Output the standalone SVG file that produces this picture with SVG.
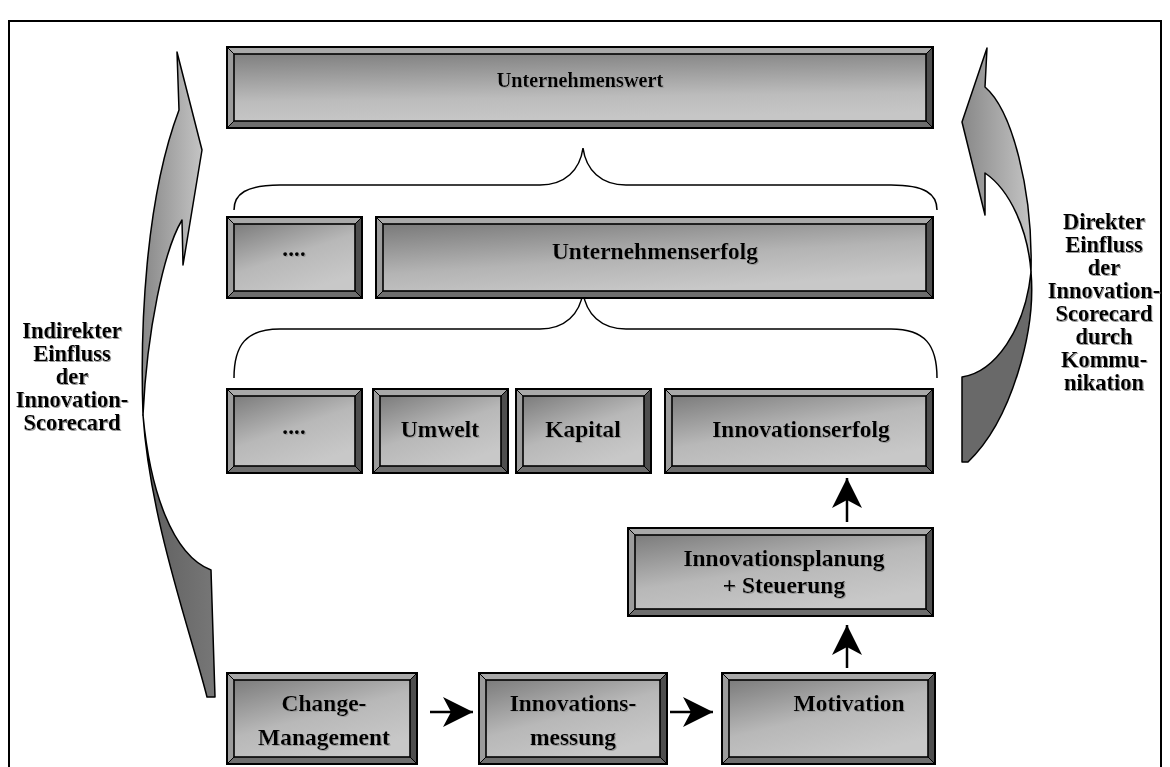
<svg xmlns="http://www.w3.org/2000/svg" width="1170" height="767" viewBox="0 0 1170 767">
<defs>
<linearGradient id="face" x1="0" y1="0" x2="0.6" y2="1">
<stop offset="0" stop-color="#7c7c7c"/>
<stop offset="0.55" stop-color="#b8b8b8"/>
<stop offset="1" stop-color="#c8c8c8"/>
</linearGradient>
<linearGradient id="faceV" x1="0" y1="0" x2="0.15" y2="1">
<stop offset="0" stop-color="#808080"/>
<stop offset="0.7" stop-color="#bcbcbc"/>
<stop offset="1" stop-color="#c6c6c6"/>
</linearGradient>
<linearGradient id="faceH" x1="0" y1="0" x2="0.5" y2="1">
<stop offset="0" stop-color="#7a7a7a"/>
<stop offset="0.6" stop-color="#b4b4b4"/>
<stop offset="1" stop-color="#c8c8c8"/>
</linearGradient>
<linearGradient id="arrUp" x1="0" y1="0" x2="1" y2="0">
<stop offset="0" stop-color="#888888"/>
<stop offset="1" stop-color="#c4c4c4"/>
</linearGradient>
<linearGradient id="arrLow" x1="0" y1="0" x2="1" y2="0">
<stop offset="0" stop-color="#5e5e5e"/>
<stop offset="1" stop-color="#777777"/>
</linearGradient>
<filter id="sh" x="-5%" y="-20%" width="110%" height="140%">
<feOffset in="SourceAlpha" dx="1.2" dy="1.2" result="o"/>
<feFlood flood-color="#9a9a9a"/>
<feComposite in2="o" operator="in" result="s"/>
<feMerge><feMergeNode in="s"/><feMergeNode in="SourceGraphic"/></feMerge>
</filter>
<marker id="ah" markerUnits="userSpaceOnUse" markerWidth="34" markerHeight="34" viewBox="-2 -17 34 34" refX="30" refY="0" orient="auto">
<path d="M0,-15 L30,0 L0,15 L8,0 Z" fill="#000"/>
</marker>
<style>
.ob{fill:#888;stroke:#000;stroke-width:2}
.bt{fill:#a9a9a9}
.bl{fill:#9c9c9c}
.br{fill:#4e4e4e}
.bb{fill:#6e6e6e}
.ed{fill:none;stroke:#000;stroke-width:1}
.in{stroke:#000;stroke-width:1.6}
.t{font-family:"Liberation Serif","Times New Roman",serif;font-weight:bold;font-size:23.5px;fill:#000;text-anchor:middle;filter:url(#sh)}
.ts{font-size:20.3px}
.tl{font-size:22.5px}
.br2{fill:none;stroke:#000;stroke-width:1.5}
.con{fill:none;stroke:#000;stroke-width:2.5}
.arr{stroke:#000;stroke-width:1.5;stroke-linejoin:round}
</style>
</defs>
<rect x="9" y="21" width="1152" height="770" fill="#fff" stroke="#000" stroke-width="2"/>

<g id="arrow-left">
<path class="arr" fill="url(#arrLow)" d="M143,415 C150,490 172,555 211,570 L215,697 L207,697 C190,630 150,520 143,415 Z"/>
<path class="arr" fill="url(#arrUp)" d="M177,52 L202,150 L183,265 L182,220 C164,250 147,330 143,415 C140,330 145,200 179,110 Z"/>
</g>
<g id="arrow-right">
<path class="arr" fill="#696969" d="M1031,272 C1036,330 1012,420 968,462 L962,462 L962,377 C995,372 1025,330 1031,272 Z"/>
<path class="arr" fill="url(#arrUp)" d="M987,48 L962,122 L985,215 L985,173 C1010,190 1028,230 1031,272 C1033,190 1012,110 985,87 Z"/>
</g>

<g id="braces">
<path class="br2" d="M234,210 C234,194 246,185 280,185 L540,185 C565,185 580,170 583,148 C586,170 601,185 626,185 L891,185 C925,185 937,194 937,210"/>
<path class="br2" d="M234,378 C234,345 246,329 280,329 L540,329 C565,329 580,314 583,292 C586,314 601,329 626,329 L891,329 C925,329 937,345 937,378"/>
</g>

<g id="n-unternehmenswert">
<rect class="ob" x="227" y="47" width="706" height="81"/>
<path class="bt" d="M228,48 L932,48 L926,54 L234,54 Z"/>
<path class="bl" d="M228,48 L234,54 L234,121 L228,127 Z"/>
<path class="br" d="M932,48 L932,127 L926,121 L926,54 Z"/>
<path class="bb" d="M228,127 L932,127 L926,121 L234,121 Z"/>
<rect class="in" x="234" y="54" width="692" height="67" fill="url(#faceV)"/>
<path class="ed" d="M228,48 L234,54 M932,48 L926,54 M228,127 L234,121 M932,127 L926,121"/>
<text class="t ts" x="580" y="87">Unternehmenswert</text>
</g>

<g id="n-dots2">
<rect class="ob" x="227" y="217" width="135" height="81"/>
<path class="bt" d="M228,218 L361,218 L355,224 L234,224 Z"/>
<path class="bl" d="M228,218 L234,224 L234,291 L228,297 Z"/>
<path class="br" d="M361,218 L361,297 L355,291 L355,224 Z"/>
<path class="bb" d="M228,297 L361,297 L355,291 L234,291 Z"/>
<rect class="in" x="234" y="224" width="121" height="67" fill="url(#face)"/>
<path class="ed" d="M228,218 L234,224 M361,218 L355,224 M228,297 L234,291 M361,297 L355,291"/>
<text class="t" x="294" y="256">....</text>
</g>

<g id="n-unternehmenserfolg">
<rect class="ob" x="376" y="217" width="557" height="81"/>
<path class="bt" d="M377,218 L932,218 L926,224 L383,224 Z"/>
<path class="bl" d="M377,218 L383,224 L383,291 L377,297 Z"/>
<path class="br" d="M932,218 L932,297 L926,291 L926,224 Z"/>
<path class="bb" d="M377,297 L932,297 L926,291 L383,291 Z"/>
<rect class="in" x="383" y="224" width="543" height="67" fill="url(#faceH)"/>
<path class="ed" d="M377,218 L383,224 M932,218 L926,224 M377,297 L383,291 M932,297 L926,291"/>
<text class="t" x="655" y="259">Unternehmenserfolg</text>
</g>

<g id="n-dots3">
<rect class="ob" x="227" y="389" width="135" height="84"/>
<path class="bt" d="M228,390 L361,390 L355,396 L234,396 Z"/>
<path class="bl" d="M228,390 L234,396 L234,466 L228,472 Z"/>
<path class="br" d="M361,390 L361,472 L355,466 L355,396 Z"/>
<path class="bb" d="M228,472 L361,472 L355,466 L234,466 Z"/>
<rect class="in" x="234" y="396" width="121" height="70" fill="url(#face)"/>
<path class="ed" d="M228,390 L234,396 M361,390 L355,396 M228,472 L234,466 M361,472 L355,466"/>
<text class="t" x="294" y="434">....</text>
</g>

<g id="n-umwelt">
<rect class="ob" x="373" y="389" width="135" height="84"/>
<path class="bt" d="M374,390 L507,390 L501,396 L380,396 Z"/>
<path class="bl" d="M374,390 L380,396 L380,466 L374,472 Z"/>
<path class="br" d="M507,390 L507,472 L501,466 L501,396 Z"/>
<path class="bb" d="M374,472 L507,472 L501,466 L380,466 Z"/>
<rect class="in" x="380" y="396" width="121" height="70" fill="url(#face)"/>
<path class="ed" d="M374,390 L380,396 M507,390 L501,396 M374,472 L380,466 M507,472 L501,466"/>
<text class="t" x="440" y="437">Umwelt</text>
</g>

<g id="n-kapital">
<rect class="ob" x="516" y="389" width="135" height="84"/>
<path class="bt" d="M517,390 L650,390 L644,396 L523,396 Z"/>
<path class="bl" d="M517,390 L523,396 L523,466 L517,472 Z"/>
<path class="br" d="M650,390 L650,472 L644,466 L644,396 Z"/>
<path class="bb" d="M517,472 L650,472 L644,466 L523,466 Z"/>
<rect class="in" x="523" y="396" width="121" height="70" fill="url(#face)"/>
<path class="ed" d="M517,390 L523,396 M650,390 L644,396 M517,472 L523,466 M650,472 L644,466"/>
<text class="t" x="583" y="437">Kapital</text>
</g>

<g id="n-innovationserfolg">
<rect class="ob" x="665" y="389" width="268" height="84"/>
<path class="bt" d="M666,390 L932,390 L926,396 L672,396 Z"/>
<path class="bl" d="M666,390 L672,396 L672,466 L666,472 Z"/>
<path class="br" d="M932,390 L932,472 L926,466 L926,396 Z"/>
<path class="bb" d="M666,472 L932,472 L926,466 L672,466 Z"/>
<rect class="in" x="672" y="396" width="254" height="70" fill="url(#face)"/>
<path class="ed" d="M666,390 L672,396 M932,390 L926,396 M666,472 L672,466 M932,472 L926,466"/>
<text class="t" x="801" y="437">Innovationserfolg</text>
</g>

<g id="n-planung">
<rect class="ob" x="628" y="528" width="305" height="88"/>
<path class="bt" d="M629,529 L932,529 L926,535 L635,535 Z"/>
<path class="bl" d="M629,529 L635,535 L635,609 L629,615 Z"/>
<path class="br" d="M932,529 L932,615 L926,609 L926,535 Z"/>
<path class="bb" d="M629,615 L932,615 L926,609 L635,609 Z"/>
<rect class="in" x="635" y="535" width="291" height="74" fill="url(#face)"/>
<path class="ed" d="M629,529 L635,535 M932,529 L926,535 M629,615 L635,609 M932,615 L926,609"/>
<text class="t" x="784" y="566">Innovationsplanung</text>
<text class="t" x="784" y="593">+ Steuerung</text>
</g>

<g id="n-change">
<rect class="ob" x="227" y="673" width="190" height="91"/>
<path class="bt" d="M228,674 L416,674 L410,680 L234,680 Z"/>
<path class="bl" d="M228,674 L234,680 L234,757 L228,763 Z"/>
<path class="br" d="M416,674 L416,763 L410,757 L410,680 Z"/>
<path class="bb" d="M228,763 L416,763 L410,757 L234,757 Z"/>
<rect class="in" x="234" y="680" width="176" height="77" fill="url(#face)"/>
<path class="ed" d="M228,674 L234,680 M416,674 L410,680 M228,763 L234,757 M416,763 L410,757"/>
<text class="t" x="324" y="711">Change-</text>
<text class="t" x="324" y="745">Management</text>
</g>

<g id="n-messung">
<rect class="ob" x="479" y="673" width="188" height="91"/>
<path class="bt" d="M480,674 L666,674 L660,680 L486,680 Z"/>
<path class="bl" d="M480,674 L486,680 L486,757 L480,763 Z"/>
<path class="br" d="M666,674 L666,763 L660,757 L660,680 Z"/>
<path class="bb" d="M480,763 L666,763 L660,757 L486,757 Z"/>
<rect class="in" x="486" y="680" width="174" height="77" fill="url(#face)"/>
<path class="ed" d="M480,674 L486,680 M666,674 L660,680 M480,763 L486,757 M666,763 L660,757"/>
<text class="t" x="573" y="711">Innovations-</text>
<text class="t" x="573" y="745">messung</text>
</g>

<g id="n-motivation">
<rect class="ob" x="722" y="673" width="213" height="91"/>
<path class="bt" d="M723,674 L934,674 L928,680 L729,680 Z"/>
<path class="bl" d="M723,674 L729,680 L729,757 L723,763 Z"/>
<path class="br" d="M934,674 L934,763 L928,757 L928,680 Z"/>
<path class="bb" d="M723,763 L934,763 L928,757 L729,757 Z"/>
<rect class="in" x="729" y="680" width="199" height="77" fill="url(#face)"/>
<path class="ed" d="M723,674 L729,680 M934,674 L928,680 M723,763 L729,757 M934,763 L928,757"/>
<text class="t" x="849" y="711">Motivation</text>
</g>

<g id="labels">
<text class="t tl" x="72" y="338">Indirekter</text>
<text class="t tl" x="72" y="361">Einfluss</text>
<text class="t tl" x="72" y="384">der</text>
<text class="t tl" x="72" y="407">Innovation-</text>
<text class="t tl" x="72" y="430">Scorecard</text>
<text class="t tl" x="1104" y="229">Direkter</text>
<text class="t tl" x="1104" y="252">Einfluss</text>
<text class="t tl" x="1104" y="275">der</text>
<text class="t tl" x="1104" y="298">Innovation-</text>
<text class="t tl" x="1104" y="321">Scorecard</text>
<text class="t tl" x="1104" y="344">durch</text>
<text class="t tl" x="1104" y="367">Kommu-</text>
<text class="t tl" x="1104" y="390">nikation</text>
</g>

<g id="connectors">
<line class="con" x1="430" y1="712" x2="473" y2="712" marker-end="url(#ah)"/>
<line class="con" x1="670" y1="712" x2="713" y2="712" marker-end="url(#ah)"/>
<line class="con" x1="847" y1="668" x2="847" y2="625" marker-end="url(#ah)"/>
<line class="con" x1="847" y1="522" x2="847" y2="478" marker-end="url(#ah)"/>
</g>
</svg>
